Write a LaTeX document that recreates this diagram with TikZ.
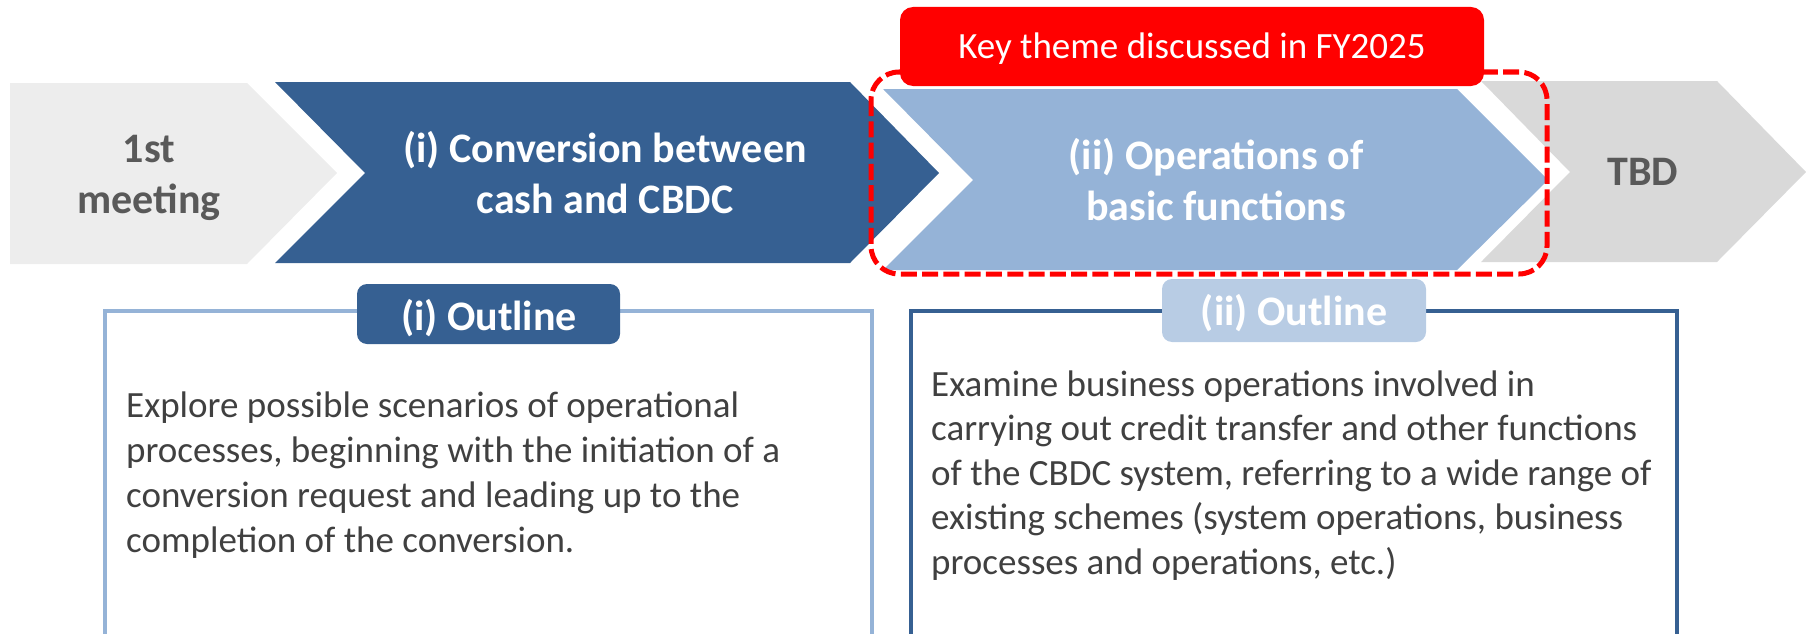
\documentclass[tikz,border=0pt]{standalone}
\usepackage{fontspec}
\setmainfont{Carlito}
\definecolor{dblue}{HTML}{366092}
\definecolor{lblue}{HTML}{95B3D7}
\definecolor{pblue}{HTML}{B8CCE4}
\definecolor{lgray}{HTML}{EDEDED}
\definecolor{mgray}{HTML}{D9D9D9}
\definecolor{tgray}{HTML}{595959}
\definecolor{bodygray}{HTML}{404040}
\definecolor{keyred}{HTML}{FF0000}
\tikzset{
  boldtext/.style={font=\fontsize{42}{51}\selectfont\bfseries, align=center, anchor=base, inner sep=0pt},
  bodytext/.style={font=\fontsize{37}{45}\selectfont, text=bodygray, align=left, anchor=base west, inner sep=0pt},
  keytext/.style={font=\fontsize{37}{45}\selectfont, text=white, anchor=base, inner sep=0pt},
}
\begin{document}
\begin{tikzpicture}[x=1pt,y=-1pt]
\useasboundingbox (0,0) rectangle (1806,634);
% chevrons
\fill[lgray] (10,83) -- (247,83) -- (337,173) -- (247,264) -- (10,264) -- cycle;
\fill[dblue] (275,82) -- (850,82) -- (939,173) -- (850,263) -- (275,263) -- (365,173) -- cycle;
\fill[mgray] (1481,81) -- (1717,81) -- (1806,172) -- (1717,262) -- (1481,262) -- (1570,172) -- cycle;
\fill[lblue] (883,89) -- (1457,89) -- (1548,180) -- (1457,270) -- (883,270) -- (973,180) -- cycle;
% chevron texts (base anchor = baseline of the last line)
\node[boldtext, text=tgray] (first) at (149,213) {1st\\meeting};
\node[boldtext, text=white] (conv) at (605,213) {(i) Conversion between\\cash and CBDC};
\node[boldtext, text=white] (ops) at (1216,220) {(ii) Operations of\\basic functions};
\node[boldtext, text=tgray] (tbd) at (1643,185) {TBD};
% dashed highlight
\draw[keyred, line width=5pt, dash pattern=on 16pt off 5.3pt, rounded corners=28pt] (871,72) rectangle (1547,274);
% key theme label
\fill[keyred, rounded corners=13pt] (900,7) rectangle (1484,86);
\node[keytext] (key) at (1192,59) {Key theme discussed in FY2025};
% outline boxes
\draw[lblue, line width=4pt] (105,650) -- (105,311) -- (872,311) -- (872,650);
\draw[dblue, line width=4pt] (911,650) -- (911,311) -- (1677,311) -- (1677,650);
\fill[dblue, rounded corners=10pt] (357,284) rectangle (620,344);
\fill[pblue, rounded corners=10pt] (1162,279) rectangle (1426,342);
\node[boldtext, text=white] (t1) at (489,330) {(i) Outline};
\node[boldtext, text=white] (t2) at (1294,325) {(ii) Outline};
\node[bodytext] (b1) at (126,552) {Explore possible scenarios of operational\\processes, beginning with the initiation of a\\conversion request and leading up to the\\completion of the conversion.};
\node[bodytext, font=\fontsize{37}{44.5}\selectfont] (b2) at (931,574) {Examine business operations involved in\\carrying out credit transfer and other functions\\of the CBDC system, referring to a wide range of\\existing schemes (system operations, business\\processes and operations, etc.)};
\end{tikzpicture}
\end{document}
